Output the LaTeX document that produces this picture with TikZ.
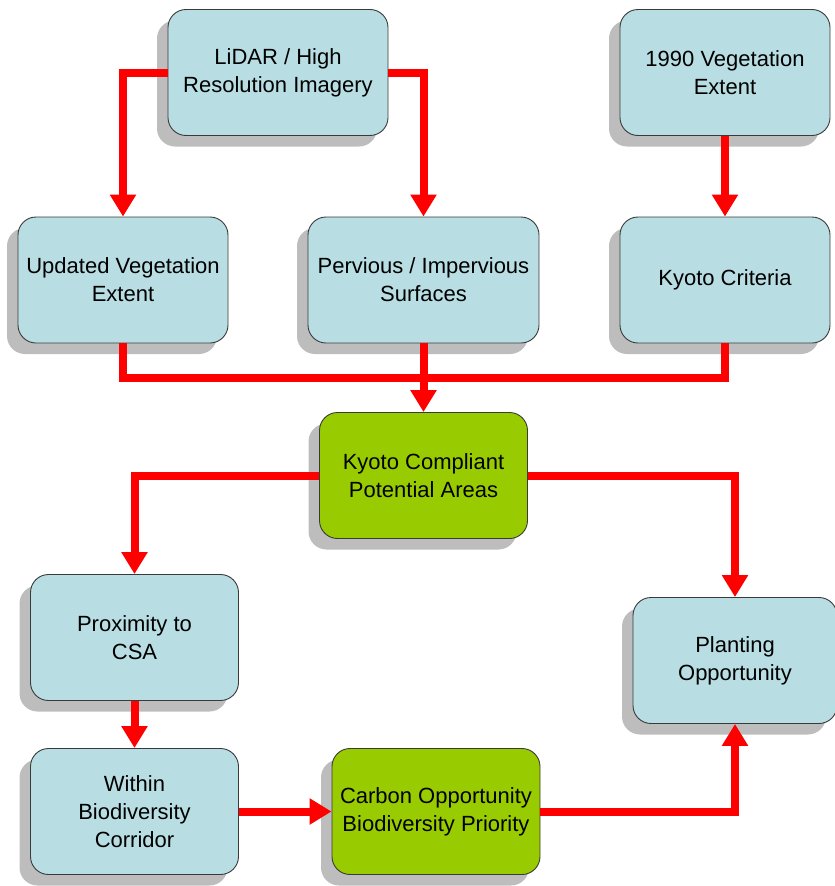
\documentclass[tikz,border=0pt]{standalone}
\usepackage{fontspec}
\setmainfont{Liberation Sans}
\usetikzlibrary{arrows.meta,shadows}
\definecolor{boxblue}{HTML}{B8DEE4}
\definecolor{boxgreen}{HTML}{99CC00}
\definecolor{shadowgray}{HTML}{BDBDBD}
\definecolor{edgegray}{HTML}{3A3A3A}
\definecolor{arrred}{HTML}{FF0000}
\begin{document}
\begin{tikzpicture}[x=1pt,y=-1pt,
  box/.style={draw=edgegray, line width=0.9pt, rounded corners=18pt, fill=boxblue,
    align=center, inner sep=0pt, minimum height=126pt,
    font=\fontsize{22}{28}\selectfont, text=black,
    drop shadow={shadow xshift=-11pt, shadow yshift=-11pt, fill=shadowgray, opacity=1}},
  gbox/.style={box, fill=boxgreen},
  conn/.style={draw=arrred, line width=8pt},
  arr/.style={conn, -{Triangle[width=25pt,length=22pt]}}]
\useasboundingbox (0,0) rectangle (835,886);

\node[box, minimum width=220pt] (lidar) at (278,72.5) {LiDAR / High\\Resolution Imagery};
\node[box, minimum width=210pt] (v1990) at (725,72.5) {1990 Vegetation\\Extent};
\node[box, minimum width=210pt] (updated) at (123,280) {Updated Vegetation\\Extent};
\node[box, minimum width=231pt] (pervious) at (423.5,280) {Pervious / Impervious\\Surfaces};
\node[box, minimum width=210pt] (kyoto) at (725,280) {Kyoto Criteria};
\node[gbox, minimum width=208pt] (kcp) at (423.5,475.5) {Kyoto Compliant\\Potential Areas};
\node[box, minimum width=208pt] (prox) at (134.5,637.5) {Proximity to\\CSA};
\node[box, minimum width=204pt] (plant) at (735,660.5) {Planting\\Opportunity};
\node[box, minimum width=208pt] (within) at (134.5,811.5) {Within\\Biodiversity\\Corridor};
\node[gbox, minimum width=208pt] (carbon) at (436,811.5) {Carbon Opportunity\\Biodiversity Priority};

\draw[arr] (lidar.west) -| (updated.north);
\draw[arr] (lidar.east) -| (pervious.north);
\draw[arr] (v1990.south) -- (kyoto.north);
\draw[conn] (updated.south) -- ++(0,35) coordinate (m1) -| (kyoto.south);
\draw[arr] (pervious.south) -- (kcp.north);
\draw[arr] (kcp.west) -| (prox.north);
\draw[arr] (kcp.east) -| (plant.north);
\draw[arr] (prox.south) -- (within.north);
\draw[arr] (within.east) -- (carbon.west);
\draw[arr] (carbon.east) -| (plant.south);
\end{tikzpicture}
\end{document}
